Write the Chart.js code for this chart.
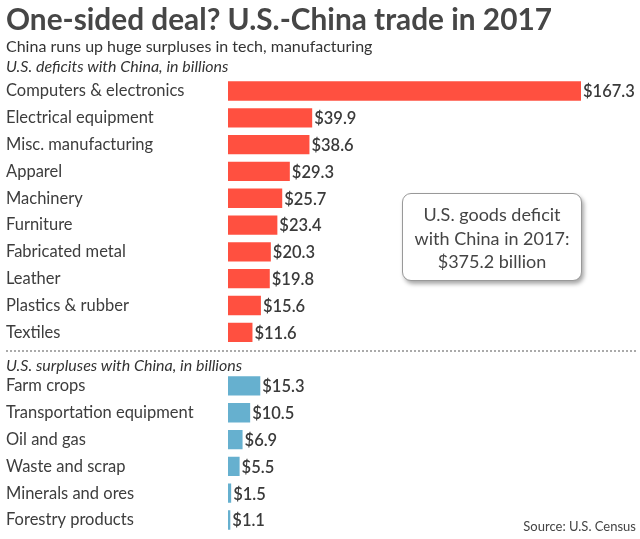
<!DOCTYPE html>
<html lang="en">
<head>
    <meta charset="UTF-8">
    <title>U.S.-China trade in 2017</title>
    <script src="https://cdn.jsdelivr.net/npm/chart.js"></script>
    <style>
        body {
            margin: 0;
            padding: 0;
            background: #ffffff;
            font-family: Lato, "Open Sans", sans-serif;
            color: #444;
        }

        .wrap {
            position: relative;
            width: 640px;
            height: 539px;
            overflow: hidden;
        }

        .wrap canvas {
            position: absolute;
            left: 0;
            top: 0;
        }

        .title {
            position: absolute;
            left: 6px;
            top: 1px;
            font-size: 29.8px;
            font-weight: bold;
            color: #464646;
            white-space: nowrap;
        }

        .subtitle {
            position: absolute;
            left: 6px;
            top: 36px;
            font-size: 16px;
            color: #333;
        }

        .section {
            position: absolute;
            left: 6px;
            font-size: 16px;
            font-style: italic;
            color: #333;
        }

        .divider {
            position: absolute;
            left: 6px;
            right: 4px;
            top: 350px;
            border-top: 2px dotted #aaa;
        }

        .callout {
            position: absolute;
            left: 402px;
            top: 193px;
            width: 180px;
            height: 88px;
            border: 1px solid #999;
            border-radius: 9px;
            box-shadow: 2px 3px 4px rgba(0, 0, 0, 0.35);
            background: #fff;
            text-align: center;
            font-size: 18px;
            line-height: 23.5px;
            color: #444;
            box-sizing: border-box;
            padding-top: 9px;
        }

        .source {
            position: absolute;
            right: 4px;
            top: 518px;
            font-size: 13px;
            color: #444;
        }
    </style>
</head>
<body>
<div class="wrap">
    <canvas id="tradeChart" width="640" height="539"></canvas>
    <div class="title">One-sided deal? U.S.-China trade in 2017</div>
    <div class="subtitle">China runs up huge surpluses in tech, manufacturing</div>
    <div class="section" style="top:56px">U.S. deficits with China, in billions</div>
    <div class="divider"></div>
    <div class="section" style="top:355px">U.S. surpluses with China, in billions</div>
    <div class="callout">U.S. goods deficit<br>with China in 2017:<br>$375.2 billion</div>
    <div class="source">Source: U.S. Census</div>
</div>

<script>
    // deficits (red) then surpluses (blue), in billions of dollars
    var deficitLabels = ['Computers & electronics', 'Electrical equipment', 'Misc. manufacturing', 'Apparel',
        'Machinery', 'Furniture', 'Fabricated metal', 'Leather', 'Plastics & rubber', 'Textiles'];
    var deficitValues = [167.3, 39.9, 38.6, 29.3, 25.7, 23.4, 20.3, 19.8, 15.6, 11.6];

    var surplusLabels = ['Farm crops', 'Transportation equipment', 'Oil and gas', 'Waste and scrap',
        'Minerals and ores', 'Forestry products'];
    var surplusValues = [15.3, 10.5, 6.9, 5.5, 1.5, 1.1];

    var deficitColor = '#ff5040';
    var surplusColor = '#66b0cf';

    // one blank row between the two groups leaves room for the divider and subheading
    var labels = deficitLabels.concat([''], surplusLabels);
    var values = deficitValues.concat([null], surplusValues);
    var colors = deficitLabels.map(function () { return deficitColor; })
        .concat(['#fff'], surplusLabels.map(function () { return surplusColor; }));

    var valueLabels = {
        id: 'valueLabels',
        afterDatasetsDraw: function (chart) {
            var ctx = chart.ctx;
            var meta = chart.getDatasetMeta(0);
            ctx.save();
            ctx.font = '600 16.5px Lato';
            ctx.fillStyle = '#3a3a3a';
            ctx.textAlign = 'left';
            ctx.textBaseline = 'middle';
            meta.data.forEach(function (bar, i) {
                if (values[i] === null) return;
                ctx.fillText('$' + values[i].toFixed(1), bar.x + 2, bar.y + 1);
            });
            ctx.restore();
        }
    };

    var ctx = document.getElementById('tradeChart').getContext('2d');
    var tradeChart = new Chart(ctx, {
        type: 'bar',
        data: {
            labels: labels,
            datasets: [{
                data: values,
                backgroundColor: colors,
                borderWidth: 0,
                barPercentage: 0.72,
                categoryPercentage: 1
            }]
        },
        options: {
            indexAxis: 'y',
            responsive: false,
            animation: false,
            layout: {
                padding: { left: 6, right: 59, top: 77.6, bottom: 5.6 }
            },
            plugins: {
                legend: { display: false },
                tooltip: { enabled: false }
            },
            scales: {
                x: {
                    display: false,
                    min: 0,
                    max: 167.3
                },
                y: {
                    afterFit: function (scale) {
                        scale.width = 222;
                        scale.paddingTop = 0;
                        scale.paddingBottom = 0;
                    },
                    grid: { display: false, drawTicks: false },
                    border: { display: false },
                    ticks: {
                        crossAlign: 'far',
                        color: '#3d3d3d',
                        font: { family: 'Lato', size: 16.5 }
                    }
                }
            }
        },
        plugins: [valueLabels]
    });
</script>
</body>
</html>
